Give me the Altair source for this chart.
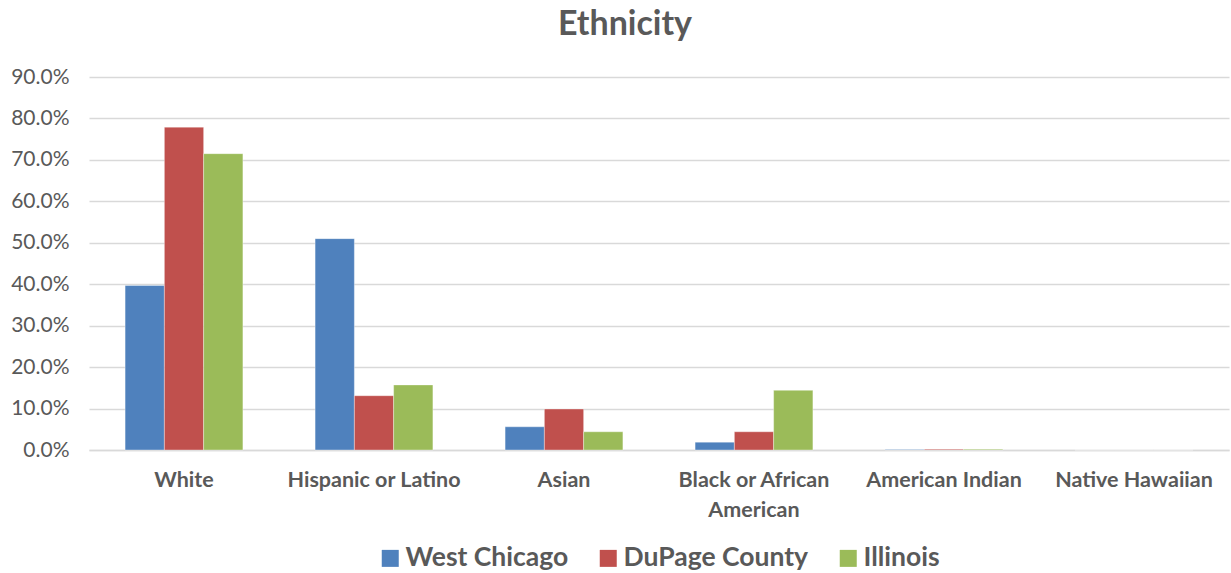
import altair as alt
import pandas as pd

# Share of population by ethnicity for three geographies
categories = ["White", "Hispanic or Latino", "Asian", "Black or African American",
              "American Indian", "Native Hawaiian"]
series = ["West Chicago", "DuPage County", "Illinois"]
west_chicago = [39.7, 51.0, 5.6, 1.9, 0.1, 0.0]
dupage_county = [77.9, 13.1, 9.9, 4.4, 0.2, 0.0]
illinois = [71.5, 15.7, 4.4, 14.4, 0.2, 0.0]
colors = ["#4f81bd", "#c0504d", "#9bbb59"]

rows = []
for name, vals in zip(series, [west_chicago, dupage_county, illinois]):
    for cat, v in zip(categories, vals):
        rows.append({"category": cat, "series": name, "value": v / 100})
df = pd.DataFrame(rows)

FONT = "Lato"
GRAY = "#595959"

chart = (
    alt.Chart(df)
    .mark_bar(stroke="white", strokeWidth=0.6, strokeOpacity=0.6)
    .encode(
        x=alt.X(
            "category:N",
            sort=categories,
            scale=alt.Scale(paddingInner=0.38, paddingOuter=0.19),
            axis=alt.Axis(
                title=None,
                labelAngle=0,
                labelFont=FONT,
                labelFontSize=21.5,
                labelFontWeight="bold",
                labelColor=GRAY,
                labelPadding=19,
                labelLineHeight=30,
                labelLimit=0,
                ticks=False,
                domainColor="#d9d9d9",
                domainWidth=1.5,
                labelExpr="datum.label == 'Black or African American' ? ['Black or African', 'American'] : datum.label",
            ),
        ),
        xOffset=alt.XOffset("series:N", sort=series, scale=alt.Scale(paddingInner=0, paddingOuter=0)),
        y=alt.Y(
            "value:Q",
            scale=alt.Scale(domain=[0, 0.9], nice=False),
            axis=alt.Axis(
                title=None,
                format=".1%",
                values=[i / 10 for i in range(10)],
                labelFont=FONT,
                labelFontSize=21,
                labelColor=GRAY,
                labelPadding=20,
                ticks=False,
                domain=False,
                gridColor="#d9d9d9",
                gridWidth=1.5,
            ),
        ),
        color=alt.Color(
            "series:N",
            sort=series,
            scale=alt.Scale(domain=series, range=colors),
            legend=alt.Legend(
                title=None,
                orient="none",
                direction="horizontal",
                legendX=288,
                legendY=468,
                symbolType="square",
                symbolSize=289,
                symbolStrokeWidth=0,
                labelFont=FONT,
                labelFontSize=26.5,
                labelFontWeight="bold",
                labelColor=GRAY,
                labelOffset=2,
                labelLimit=0,
                columnPadding=26,
            ),
        ),
    )
    .properties(
        width=1140,
        height=373,
        padding={"left": 89, "top": 77, "right": 2, "bottom": 123},
        autosize=alt.AutoSizeParams(type="none"),
        title=alt.TitleParams(
            "Ethnicity",
            font=FONT,
            fontSize=34,
            fontWeight="bold",
            color=GRAY,
            anchor="middle",
            dx=-34,
            offset=24,
        ),
    )
    .configure_view(stroke=None)
)

chart.save("out.html", embed_options={"renderer": "svg", "actions": False})
